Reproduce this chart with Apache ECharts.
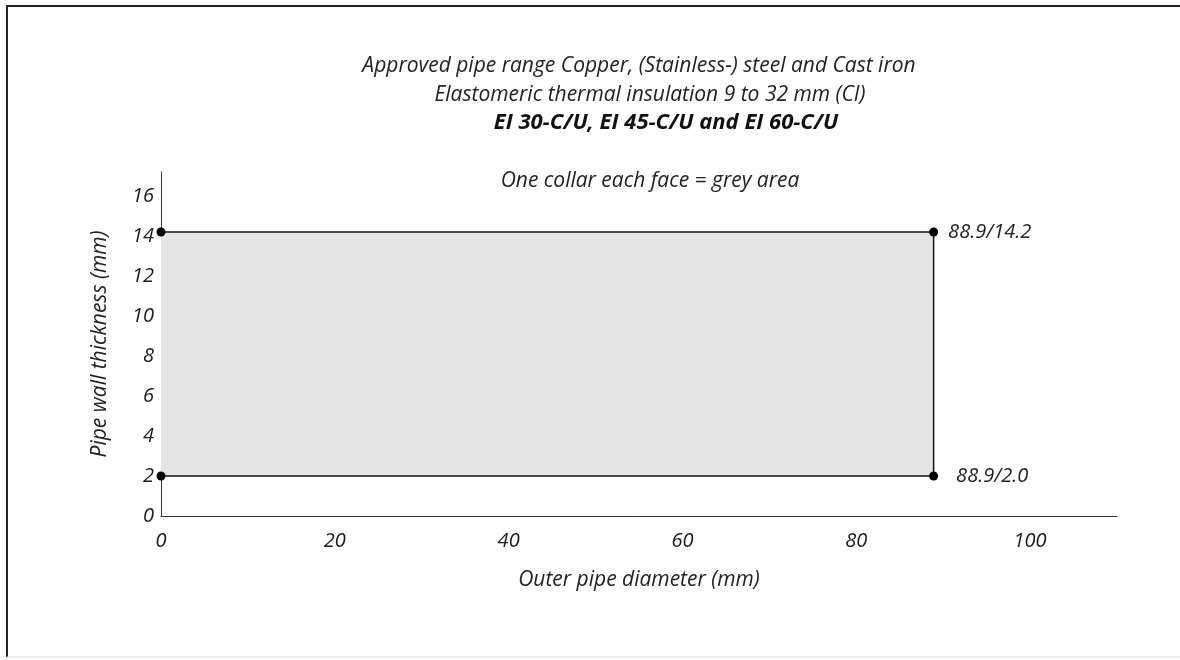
<!DOCTYPE html>
<html>
<head>
<meta charset="utf-8">
<script src="https://cdn.jsdelivr.net/npm/echarts@6/dist/echarts.min.js"></script>
<style>html,body{margin:0;padding:0;background:#fff}#chart{width:1180px;height:660px}</style>
</head>
<body>
<div id="chart"></div>
<script>
// Data
var titleLines = [
  'Approved pipe range Copper, (Stainless-) steel and Cast iron',
  'Elastomeric thermal insulation 9 to 32 mm (CI)',
  'EI 30-C/U, EI 45-C/U and EI 60-C/U'
];
var noteText = 'One collar each face = grey area';
var xAxisName = 'Outer pipe diameter (mm)';
var yAxisName = 'Pipe wall thickness (mm)';
var rangeDiameter = [0, 88.9];        // outer pipe diameter (mm)
var rangeThickness = [2.0, 14.2];     // pipe wall thickness (mm)
var cornerLabels = ['88.9/14.2', '88.9/2.0'];
var xTicks = [0, 20, 40, 60, 80, 100];
var yTicks = [0, 2, 4, 6, 8, 10, 12, 14, 16];

var FONT = '"Open Sans", "Noto Sans", sans-serif';
var chart = echarts.init(document.getElementById('chart'));

var path = [
  { value: [rangeDiameter[0], rangeThickness[1]] },
  { value: [rangeDiameter[1], rangeThickness[1]], label: { show: true, formatter: cornerLabels[0], distance: 10 } },
  { value: [rangeDiameter[1], rangeThickness[0]], label: { show: true, formatter: cornerLabels[1], distance: 18 } },
  { value: [rangeDiameter[0], rangeThickness[0]] }
];

var option = {
  backgroundColor: '#fff',
  animation: false,
  grid: { left: 161, right: 63, top: 172, bottom: 144 },
  graphic: [
    { type: 'line', shape: { x1: 6, y1: 6, x2: 1180, y2: 6 }, style: { stroke: '#222', lineWidth: 2 }, silent: true },
    { type: 'line', shape: { x1: 7, y1: 6, x2: 7, y2: 657 }, style: { stroke: '#222', lineWidth: 2 }, silent: true },
    { type: 'line', shape: { x1: 7, y1: 657, x2: 1180, y2: 657 }, style: { stroke: '#ddd', lineWidth: 1 }, silent: true },
    { type: 'text', x: 639, y: 66, style: { text: titleLines[0], font: 'italic 21px ' + FONT, fill: '#222', textAlign: 'center', textVerticalAlign: 'middle' } },
    { type: 'text', x: 650, y: 95, style: { text: titleLines[1], font: 'italic 21px ' + FONT, fill: '#222', textAlign: 'center', textVerticalAlign: 'middle' } },
    { type: 'text', x: 666, y: 123, style: { text: titleLines[2], font: 'italic bold 22px ' + FONT, fill: '#111', textAlign: 'center', textVerticalAlign: 'middle' } },
    { type: 'text', x: 650, y: 181, style: { text: noteText, font: 'italic 21px ' + FONT, fill: '#222', textAlign: 'center', textVerticalAlign: 'middle' } }
  ],
  xAxis: {
    type: 'value', min: 0, max: 110, interval: 20,
    name: xAxisName, nameLocation: 'middle', nameGap: 54,
    nameTextStyle: { fontFamily: FONT, fontStyle: 'italic', fontSize: 21, color: '#222' },
    axisLine: { show: true, lineStyle: { color: '#333', width: 1 } },
    axisTick: { show: false },
    splitLine: { show: false },
    axisLabel: {
      margin: 15, fontFamily: FONT, fontStyle: 'italic', fontSize: 20, color: '#1a1a1a',
      formatter: function (v) { return xTicks.indexOf(v) >= 0 ? String(v) : ''; }
    }
  },
  yAxis: {
    type: 'value', min: 0, max: 17.2, interval: 2,
    name: yAxisName, nameLocation: 'middle', nameGap: 50, nameRotate: 90,
    nameTextStyle: { fontFamily: FONT, fontStyle: 'italic', fontSize: 21, color: '#222' },
    axisLine: { show: true, lineStyle: { color: '#333', width: 1 } },
    axisTick: { show: false },
    splitLine: { show: false },
    axisLabel: {
      margin: 7, fontFamily: FONT, fontStyle: 'italic', fontSize: 20, color: '#1a1a1a',
      formatter: function (v) { return yTicks.indexOf(v) >= 0 ? String(v) : ''; }
    }
  },
  series: [{
    type: 'line',
    data: path,
    symbol: 'circle',
    symbolSize: 9,
    itemStyle: { color: '#000' },
    lineStyle: { color: '#111', width: 1.5 },
    label: {
      show: false, position: 'right',
      fontFamily: FONT, fontStyle: 'italic', fontSize: 20, color: '#222'
    },
    markArea: {
      silent: true,
      itemStyle: { color: '#e4e4e4' },
      data: [[
        { coord: [rangeDiameter[0], rangeThickness[1]] },
        { coord: [rangeDiameter[1], rangeThickness[0]] }
      ]]
    },
    z: 3
  }]
};
chart.setOption(option);
</script>
</body>
</html>
